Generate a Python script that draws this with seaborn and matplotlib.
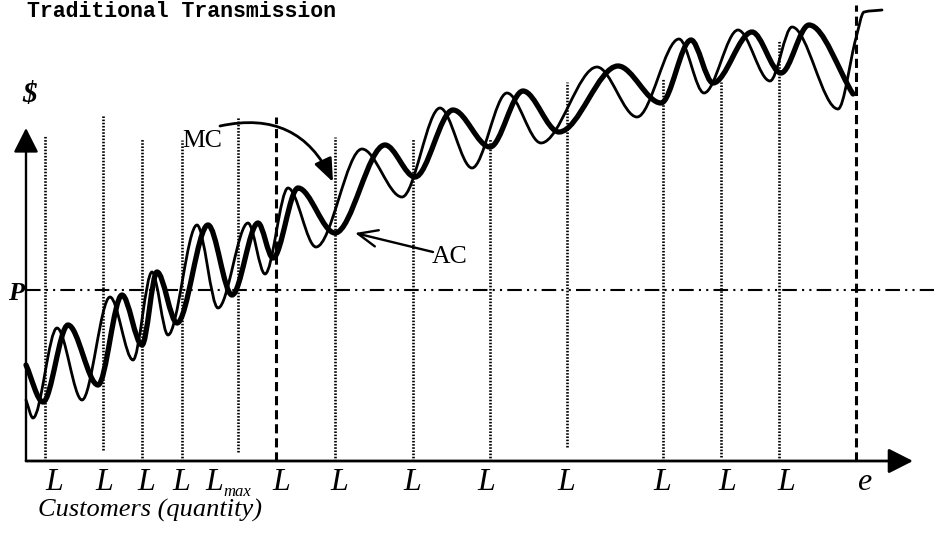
import numpy as np
import pandas as pd
import matplotlib
matplotlib.use("Agg")
import matplotlib.pyplot as plt
from matplotlib.path import Path
from matplotlib.patches import PathPatch
import seaborn as sns

# ---------------- data ----------------
# Average cost curve (thick): turning points, x = customers, y = $
ac_x = [0, 17, 42, 72, 96, 116, 131, 151, 182, 206, 232, 247, 272, 309, 359, 389,
        427, 464, 497, 533, 592, 635, 665, 687, 726, 755, 783, 827]
ac_y = [96, 59, 136, 76, 166, 116, 189, 138, 236, 166, 238, 203, 273, 228, 316, 284,
        351, 314, 370, 329, 395, 358, 421, 378, 429, 388, 436, 367]
# Marginal cost curve (thin)
mc_x = [0, 7, 31, 56, 84, 107, 126, 142, 171, 192, 222, 239, 262, 290, 336, 376,
        414, 446, 481, 515, 571, 611, 653, 678, 712, 744, 766, 812, 830, 838, 856]
mc_y = [61, 43, 133, 61, 164, 101, 189, 126, 236, 153, 238, 187, 273, 214, 312, 264,
        353, 293, 368, 318, 394, 344, 422, 368, 431, 380, 434, 352, 423, 449, 451]

# Vertical guide lines (L positions): x, top, bottom, style
guide_x = [19, 77, 116, 156, 212, 250, 309, 387, 464, 541, 637, 695, 753, 830]
guide_top = [326, 346, 323, 321, 344, 344, 324, 323, 323, 379, 383, 379, 421, 456]
guide_bottom = [0, 11, 0, 0, 9, 0, 0, 0, 0, 14, 0, 4, 0, 0]
guide_style = ["dot", "dot", "dot", "dot", "dot", "dash", "dot", "dot", "dot",
               "dot", "dot", "dot", "dot", "dash"]

# Tick labels on the quantity axis
tick_x = [28, 78, 120, 155, 188, 255, 313, 386, 460, 540, 636, 701, 760, 838]
tick_labels = ["L", "L", "L", "L", "L", "L", "L", "L", "L", "L", "L", "L", "L", "e"]

price_level = 171  # P

# ---------------- figure ----------------
sns.set_theme(style="white")
plt.rcParams["font.family"] = ["Liberation Serif", "DejaVu Serif"]
plt.rcParams["text.color"] = "black"

fig = plt.figure(figsize=(9.34, 5.41), dpi=100)
ax = fig.add_axes([0, 0, 1, 1])


def pchip_slopes(x, y):
    x = np.asarray(x, float)
    y = np.asarray(y, float)
    h = np.diff(x)
    d = np.diff(y) / h
    m = np.zeros_like(y)
    for k in range(1, len(y) - 1):
        if d[k - 1] * d[k] <= 0:
            m[k] = 0.0
        else:
            w1 = 2 * h[k] + h[k - 1]
            w2 = h[k] + 2 * h[k - 1]
            m[k] = (w1 + w2) / (w1 / d[k - 1] + w2 / d[k])
    m[0] = d[0]
    m[-1] = d[-1]
    return m


def smooth_path(x, y):
    m = pchip_slopes(x, y)
    verts = [(x[0], y[0])]
    codes = [Path.MOVETO]
    for i in range(len(x) - 1):
        h = x[i + 1] - x[i]
        verts += [(x[i] + h / 3, y[i] + m[i] * h / 3),
                  (x[i + 1] - h / 3, y[i + 1] - m[i + 1] * h / 3),
                  (x[i + 1], y[i + 1])]
        codes += [Path.CURVE4] * 3
    return Path(verts, codes)


# price line via seaborn
p_df = pd.DataFrame({"x": [0, 908], "y": [price_level, price_level]})
sns.lineplot(data=p_df, x="x", y="y", ax=ax, color="black", lw=1.5,
             linestyle=(0, (7, 2.5, 1, 2.5, 1, 2.5)), legend=False)
ax.set_xlim(-26, 908)
ax.set_ylim(-80, 461)
ax.axis("off")

# guide lines
for gx, gt, gb, gs in zip(guide_x, guide_top, guide_bottom, guide_style):
    if gs == "dot":
        ax.plot([gx, gx], [gb, gt], color="black", lw=1.9, ls=(0, (0.6, 0.6)),
                solid_capstyle="butt")
    else:
        ax.plot([gx, gx], [gb, gt], color="black", lw=2.2, ls=(0, (3, 1.6)))

# cost curves
ax.add_patch(PathPatch(smooth_path(mc_x, mc_y), fill=False, lw=2.0,
                       edgecolor="black", capstyle="round", joinstyle="round"))
ax.add_patch(PathPatch(smooth_path(ac_x, ac_y), fill=False, lw=3.8,
                       edgecolor="black", capstyle="round", joinstyle="round"))

# axes with arrows
ax.annotate("", xy=(0, 333), xytext=(0, 0),
            arrowprops=dict(arrowstyle="-|>,head_length=0.75,head_width=0.38",
                            mutation_scale=20, lw=1.7, color="black",
                            shrinkA=0, shrinkB=0))
ax.annotate("", xy=(887, 0), xytext=(0, 0),
            arrowprops=dict(arrowstyle="-|>,head_length=0.75,head_width=0.38",
                            mutation_scale=20, lw=2.0, color="black",
                            shrinkA=0, shrinkB=0))

# annotation arrows
ax.annotate("", xy=(307, 279), xytext=(194, 335),
            arrowprops=dict(arrowstyle="-|>,head_length=0.7,head_width=0.28",
                            mutation_scale=20, lw=2.0, color="black",
                            connectionstyle="arc3,rad=-0.4",
                            shrinkA=0, shrinkB=0))
ax.annotate("", xy=(329, 228), xytext=(407, 209),
            arrowprops=dict(arrowstyle="->,head_length=0.7,head_width=0.3",
                            mutation_scale=20, lw=1.7, color="black",
                            shrinkA=0, shrinkB=0))

# texts
ax.text(176, 320, "MC", fontsize=18.5, ha="center", va="center")
ax.text(424, 204, "AC", fontsize=18.5, ha="center", va="center")
ax.text(4, 366, "$", fontsize=21, style="italic", fontweight="bold",
        ha="center", va="center")
ax.text(-10, 167, "P", fontsize=19, style="italic", fontweight="bold",
        ha="center", va="center")
for tx, tl in zip(tick_x, tick_labels):
    ax.text(tx, -21, tl, fontsize=23, style="italic", ha="center", va="center")
ax.text(197, -31, "max", fontsize=12, style="italic", ha="left", va="center")
ax.text(12, -56, "Customers (quantity)", fontsize=19, style="italic",
        ha="left", va="baseline")
ax.text(1, 460, "Traditional Transmission", fontsize=15.5, fontweight="bold",
        family=["Liberation Mono", "DejaVu Sans Mono"], ha="left", va="top")

fig.savefig("out.png", dpi=100, facecolor="white")
